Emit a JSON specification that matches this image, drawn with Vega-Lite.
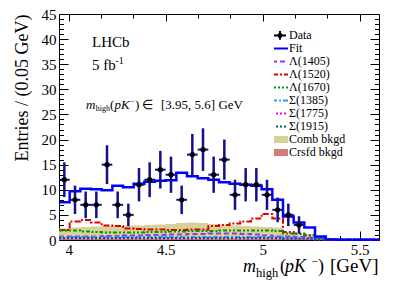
{
"$schema":"https://vega.github.io/schema/vega-lite/v6.json",
"width":320,"height":226,
"autosize":{"type":"none"},
"padding":{"left":59,"top":14,"right":20,"bottom":46},
"background":"white",
"config":{
 "view":{"stroke":"black","strokeWidth":1},
 "axis":{"grid":false,"domain":false,"labelFont":"Liberation Serif","labelFontSize":15,"labelColor":"black","titleFont":"Liberation Serif","titleFontSize":18,"titleFontWeight":"normal","titleColor":"black","tickColor":"black","tickWidth":1,"labelFlush":false,"labelOverlap":false},
 "text":{"font":"Liberation Serif","color":"black"}
},
"datasets":{"bins":[
{"lo":3.95,"hi":4.005,"c":3.9775,"n":12,"elo":8.54,"ehi":15.46,"fit":7.5,"L1405":0.7,"L1520":2.0,"L1670":1.9,"S1385":0.6,"S1775":0.25,"S1915":0.4,"comb":2.3,"crsfd":0.3},
{"lo":4.005,"hi":4.06,"c":4.0325,"n":8,"elo":5.17,"ehi":10.83,"fit":9.7,"L1405":0.7,"L1520":3.7,"L1670":1.9,"S1385":0.6,"S1775":0.25,"S1915":0.4,"comb":2.5,"crsfd":0.3},
{"lo":4.06,"hi":4.115,"c":4.0875,"n":7,"elo":4.35,"ehi":9.65,"fit":10.2,"L1405":0.7,"L1520":4.0,"L1670":1.7,"S1385":0.6,"S1775":0.25,"S1915":0.4,"comb":2.6,"crsfd":0.3},
{"lo":4.115,"hi":4.17,"c":4.1425,"n":7,"elo":4.35,"ehi":9.65,"fit":10.1,"L1405":0.7,"L1520":3.5,"L1670":1.6,"S1385":0.6,"S1775":0.25,"S1915":0.4,"comb":2.7,"crsfd":0.3},
{"lo":4.17,"hi":4.225,"c":4.1975,"n":15,"elo":11.13,"ehi":18.87,"fit":9.9,"L1405":0.8,"L1520":2.9,"L1670":1.5,"S1385":0.6,"S1775":0.25,"S1915":0.4,"comb":2.8,"crsfd":0.3},
{"lo":4.225,"hi":4.28,"c":4.2525,"n":7,"elo":4.35,"ehi":9.65,"fit":10.8,"L1405":0.8,"L1520":2.8,"L1670":1.5,"S1385":0.6,"S1775":0.25,"S1915":0.4,"comb":2.8,"crsfd":0.3},
{"lo":4.28,"hi":4.335,"c":4.3075,"n":5,"elo":2.76,"ehi":7.24,"fit":10.5,"L1405":0.9,"L1520":2.3,"L1670":1.5,"S1385":0.6,"S1775":0.25,"S1915":0.4,"comb":2.9,"crsfd":0.3},
{"lo":4.335,"hi":4.39,"c":4.3625,"n":11,"elo":7.68,"ehi":14.32,"fit":11.2,"L1405":0.9,"L1520":2.2,"L1670":1.5,"S1385":0.6,"S1775":0.25,"S1915":0.4,"comb":2.9,"crsfd":0.3},
{"lo":4.39,"hi":4.445,"c":4.4175,"n":12,"elo":8.54,"ehi":15.46,"fit":11.6,"L1405":1.0,"L1520":2.1,"L1670":1.6,"S1385":0.6,"S1775":0.25,"S1915":0.4,"comb":3.0,"crsfd":0.3},
{"lo":4.445,"hi":4.5,"c":4.4725,"n":14,"elo":10.26,"ehi":17.74,"fit":11.8,"L1405":1.0,"L1520":2.1,"L1670":1.6,"S1385":0.6,"S1775":0.25,"S1915":0.4,"comb":3.1,"crsfd":0.3},
{"lo":4.5,"hi":4.555,"c":4.5275,"n":13,"elo":9.39,"ehi":16.61,"fit":11.9,"L1405":1.1,"L1520":2.0,"L1670":1.7,"S1385":0.6,"S1775":0.25,"S1915":0.4,"comb":3.2,"crsfd":0.3},
{"lo":4.555,"hi":4.61,"c":4.5825,"n":8,"elo":5.17,"ehi":10.83,"fit":13.4,"L1405":1.1,"L1520":2.0,"L1670":1.7,"S1385":0.6,"S1775":0.25,"S1915":0.4,"comb":3.4,"crsfd":0.3},
{"lo":4.61,"hi":4.665,"c":4.6375,"n":17,"elo":12.88,"ehi":21.12,"fit":12.7,"L1405":1.2,"L1520":2.1,"L1670":1.8,"S1385":0.6,"S1775":0.25,"S1915":0.4,"comb":3.5,"crsfd":0.3},
{"lo":4.665,"hi":4.72,"c":4.6925,"n":18,"elo":13.76,"ehi":22.24,"fit":12.3,"L1405":1.2,"L1520":2.1,"L1670":1.8,"S1385":0.6,"S1775":0.25,"S1915":0.4,"comb":3.4,"crsfd":0.3},
{"lo":4.72,"hi":4.775,"c":4.7475,"n":13,"elo":9.39,"ehi":16.61,"fit":12.0,"L1405":1.3,"L1520":2.8,"L1670":1.8,"S1385":0.6,"S1775":0.25,"S1915":0.4,"comb":3.2,"crsfd":0.3},
{"lo":4.775,"hi":4.83,"c":4.8025,"n":16,"elo":12,"ehi":20,"fit":11.5,"L1405":1.3,"L1520":3.0,"L1670":1.9,"S1385":0.6,"S1775":0.25,"S1915":0.4,"comb":3.0,"crsfd":0.3},
{"lo":4.83,"hi":4.885,"c":4.8575,"n":9,"elo":6,"ehi":12,"fit":11.2,"L1405":1.3,"L1520":3.3,"L1670":1.9,"S1385":0.6,"S1775":0.25,"S1915":0.4,"comb":2.9,"crsfd":0.3},
{"lo":4.885,"hi":4.94,"c":4.9125,"n":11,"elo":7.68,"ehi":14.32,"fit":11.0,"L1405":1.2,"L1520":3.7,"L1670":1.9,"S1385":0.6,"S1775":0.25,"S1915":0.4,"comb":2.8,"crsfd":0.3},
{"lo":4.94,"hi":4.995,"c":4.9675,"n":11,"elo":7.68,"ehi":14.32,"fit":10.8,"L1405":1.1,"L1520":4.3,"L1670":1.9,"S1385":0.6,"S1775":0.25,"S1915":0.4,"comb":2.7,"crsfd":0.3},
{"lo":4.995,"hi":5.05,"c":5.0225,"n":9,"elo":6,"ehi":12,"fit":10.1,"L1405":0.9,"L1520":5.2,"L1670":1.9,"S1385":0.6,"S1775":0.25,"S1915":0.4,"comb":2.6,"crsfd":0.3},
{"lo":5.05,"hi":5.105,"c":5.0775,"n":6,"elo":3.55,"ehi":8.45,"fit":8.0,"L1405":0.7,"L1520":4.3,"L1670":1.8,"S1385":0.6,"S1775":0.25,"S1915":0.4,"comb":2.5,"crsfd":0.3},
{"lo":5.105,"hi":5.16,"c":5.1325,"n":5,"elo":2.76,"ehi":7.24,"fit":4.7,"L1405":0.7,"L1520":1.6,"L1670":1.3,"S1385":0.5,"S1775":0.2,"S1915":0.3,"comb":1.5,"crsfd":0.3},
{"lo":5.16,"hi":5.215,"c":5.1875,"n":3,"elo":1.27,"ehi":4.73,"fit":3.5,"L1405":0.6,"L1520":1.3,"L1670":1.2,"S1385":0.4,"S1775":0.2,"S1915":0.3,"comb":1.0,"crsfd":0.3},
{"lo":5.215,"hi":5.27,"c":5.2425,"fit":2.5,"L1405":0.5,"L1520":0.9,"L1670":1.0,"S1385":0.3,"S1775":0.15,"S1915":0.3,"comb":0.5,"crsfd":0.2},
{"lo":5.27,"hi":5.325,"c":5.2975,"fit":0.7,"L1405":0.3,"L1520":0.4,"L1670":0.3,"S1385":0.2,"S1775":0.1,"S1915":0.15,"comb":0.2,"crsfd":0.1},
{"lo":5.325,"hi":5.38,"c":5.3525,"fit":0.1,"L1405":0.1,"L1520":0.15,"L1670":0.1,"S1385":0.1,"S1775":0.05,"S1915":0.1,"comb":0.05,"crsfd":0},
{"lo":5.38,"hi":5.435,"c":5.4075,"fit":0.05,"L1405":0.05,"L1520":0.1,"L1670":0.05,"S1385":0.05,"S1775":0.05,"S1915":0.05,"comb":0,"crsfd":0},
{"lo":5.435,"hi":5.49,"c":5.4625,"fit":0.05,"L1405":0.05,"L1520":0.1,"L1670":0.05,"S1385":0.05,"S1775":0.05,"S1915":0.05,"comb":0,"crsfd":0},
{"lo":5.49,"hi":5.545,"c":5.5175,"fit":0.05,"L1405":0.05,"L1520":0.1,"L1670":0.05,"S1385":0.05,"S1775":0.05,"S1915":0.05,"comb":0,"crsfd":0},
{"lo":5.545,"hi":5.6,"c":5.5725,"fit":0.05,"L1405":0.05,"L1520":0.1,"L1670":0.05,"S1385":0.05,"S1775":0.05,"S1915":0.05,"comb":0,"crsfd":0},
{"lo":5.6,"fit":0.05,"L1405":0.05,"L1520":0.1,"L1670":0.05,"S1385":0.05,"S1775":0.05,"S1915":0.05,"comb":0,"crsfd":0}
]},
"data":{"name":"bins"},
"resolve":{"axis":{"x":"independent","y":"independent"}},
"layer":[
 {"mark":{"type":"area","interpolate":"step-after","opacity":1,"fill":"#d8d199"},
  "encoding":{
   "x":{"field":"lo","type":"quantitative","scale":{"domain":[3.95,5.6],"nice":false,"zero":false},
        "axis":{"orient":"bottom","values":[4,4.5,5,5.5],"format":"~g","ticks":false,"labelPadding":2,"title":null}},
   "y":{"field":"comb","type":"quantitative","scale":{"domain":[0,45],"nice":false},
        "axis":{"orient":"left","values":[0,5,10,15,20,25,30,35,40,45],"ticks":false,"labelPadding":3,"title":"Entries / (0.05 GeV)","titleAnchor":"end","titlePadding":10}}
  }},
 {"mark":{"type":"area","interpolate":"step-after","opacity":1,"fill":"#d67b7b"},
  "encoding":{
   "x":{"field":"lo","type":"quantitative","axis":{"orient":"bottom","values":[4,4.5,5,5.5],"labels":false,"tickSize":-9,"title":null}},
   "y":{"field":"crsfd","type":"quantitative","axis":{"orient":"left","values":[0,5,10,15,20,25,30,35,40,45],"labels":false,"tickSize":-9,"title":null}}
  }},
 {"transform":[{"fold":["L1405","L1520","L1670","S1385","S1775","S1915"],"as":["comp","val"]}],
  "mark":{"type":"line","interpolate":"step-after","strokeWidth":2},
  "encoding":{
   "x":{"field":"lo","type":"quantitative","axis":{"orient":"bottom","values":[4.1,4.2,4.3,4.4,4.6,4.7,4.8,4.9,5.1,5.2,5.3,5.4],"labels":false,"tickSize":-4.5,"title":null}},
   "y":{"field":"val","type":"quantitative","axis":{"orient":"left","values":[1,2,3,4,6,7,8,9,11,12,13,14,16,17,18,19,21,22,23,24,26,27,28,29,31,32,33,34,36,37,38,39,41,42,43,44],"labels":false,"tickSize":-4.5,"title":null}},
   "color":{"field":"comp","type":"nominal",
     "scale":{"domain":["data","fit","L1405","L1520","L1670","S1385","S1775","S1915","comb","crsfd"],"range":["black","#0000ff","#9933ff","#e00000","#009900","#3399ff","#ff00ff","#006666","#d8d199","#d67b7b"]},
     "legend":{"orient":"none","legendX":215,"legendY":15,"title":null,"symbolType":"stroke","symbolSize":169,"symbolStrokeWidth":2,"labelFont":"Liberation Serif","labelFontSize":12,"labelColor":"black","rowPadding":0,"clipHeight":12.8,"padding":0,"labelOffset":3,"symbolOffset":0,
       "labelExpr":"{'data':'Data','fit':'Fit','L1405':'Λ(1405)','L1520':'Λ(1520)','L1670':'Λ(1670)','S1385':'Σ(1385)','S1775':'Σ(1775)','S1915':'Σ(1915)','comb':'Comb bkgd','crsfd':'Crsfd bkgd'}[datum.label]",
       "encode":{"symbols":{"update":{
         "strokeWidth":{"signal":"datum.value==='comb'||datum.value==='crsfd' ? 7 : 2"},
         "shape":{"signal":"datum.value==='data' ? 'M-0.92,0H0.92M0,-0.68V0.68M-0.25,0A0.25,0.25 0 1,0 0.25,0A0.25,0.25 0 1,0 -0.25,0Z' : 'M-1.23,0H1.23'"},
         "fill":{"signal":"datum.value==='data' ? 'black' : 'transparent'"}}}}}},
   "strokeDash":{"field":"comp","type":"nominal",
     "scale":{"domain":["data","fit","L1405","L1520","L1670","S1385","S1775","S1915","comb","crsfd"],"range":[[1,0],[1,0],[5,3],[6,2,2,2],[4,2,2,2,2,2],[5,2,2,2],[2,2],[2,2],[1,0],[1,0]]},
     "legend":{"orient":"none","legendX":215,"legendY":15,"title":null,"symbolType":"stroke","symbolSize":169,"symbolStrokeWidth":2,"labelFont":"Liberation Serif","labelFontSize":12,"labelColor":"black","rowPadding":0,"clipHeight":12.8,"padding":0,"labelOffset":3,"symbolOffset":0,
       "labelExpr":"{'data':'Data','fit':'Fit','L1405':'Λ(1405)','L1520':'Λ(1520)','L1670':'Λ(1670)','S1385':'Σ(1385)','S1775':'Σ(1775)','S1915':'Σ(1915)','comb':'Comb bkgd','crsfd':'Crsfd bkgd'}[datum.label]",
       "encode":{"symbols":{"update":{
         "strokeWidth":{"signal":"datum.value==='comb'||datum.value==='crsfd' ? 7 : 2"},
         "shape":{"signal":"datum.value==='data' ? 'M-0.92,0H0.92M0,-0.68V0.68M-0.25,0A0.25,0.25 0 1,0 0.25,0A0.25,0.25 0 1,0 -0.25,0Z' : 'M-1.23,0H1.23'"},
         "fill":{"signal":"datum.value==='data' ? 'black' : 'transparent'"}}}}}}
  }},
 {"mark":{"type":"line","interpolate":"step-after","strokeWidth":2.5},
  "encoding":{
   "x":{"field":"lo","type":"quantitative","axis":{"orient":"top","values":[4,4.5,5,5.5],"labels":false,"tickSize":-7,"title":null}},
   "y":{"field":"fit","type":"quantitative","axis":{"orient":"right","values":[0,5,10,15,20,25,30,35,40,45],"labels":false,"tickSize":-9,"title":null}},
   "color":{"datum":"fit"},
   "strokeDash":{"datum":"fit"}
  }},
 {"transform":[{"filter":"isValid(datum.n)"}],
  "mark":{"type":"rule","color":"#10108a","strokeWidth":2.5},
  "encoding":{
   "x":{"field":"c","type":"quantitative","axis":{"orient":"top","values":[4.1667,4.3333,4.6667,4.8333,5.1667,5.3333],"labels":false,"tickSize":-4,"title":null}},
   "y":{"field":"elo","type":"quantitative","axis":{"orient":"right","values":[1,2,3,4,6,7,8,9,11,12,13,14,16,17,18,19,21,22,23,24,26,27,28,29,31,32,33,34,36,37,38,39,41,42,43,44],"labels":false,"tickSize":-4.5,"title":null}},
   "y2":{"field":"ehi"}
  }},
 {"transform":[{"filter":"isValid(datum.n)"}],
  "mark":{"type":"rule","color":"#10108a","strokeWidth":2},
  "encoding":{
   "x":{"field":"lo","type":"quantitative","axis":null},
   "x2":{"field":"hi"},
   "y":{"field":"n","type":"quantitative","axis":null}
  }},
 {"transform":[{"filter":"isValid(datum.n)"}],
  "mark":{"type":"point","filled":true,"color":"black","size":28,"opacity":1},
  "encoding":{
   "x":{"field":"c","type":"quantitative","axis":null},
   "y":{"field":"n","type":"quantitative","axis":null}
  }},
 {"data":{"values":[{}]},"mark":{"type":"text","text":"LHCb","fontSize":15,"align":"left","baseline":"alphabetic"},
  "encoding":{"x":{"datum":4.12,"type":"quantitative","axis":null},"y":{"datum":38.49,"type":"quantitative","axis":null}}},
 {"data":{"values":[{}]},"mark":{"type":"text","text":"5 fb","fontSize":15,"align":"left","baseline":"alphabetic"},
  "encoding":{"x":{"datum":4.12,"type":"quantitative","axis":null},"y":{"datum":33.85,"type":"quantitative","axis":null}}},
 {"data":{"values":[{}]},"mark":{"type":"text","text":"-1","fontSize":10,"align":"left","baseline":"alphabetic"},
  "encoding":{"x":{"datum":4.2413,"type":"quantitative","axis":null},"y":{"datum":35.05,"type":"quantitative","axis":null}}},
 {"data":{"values":[{}]},"mark":{"type":"text","text":"m","fontSize":13,"fontStyle":"italic","align":"left","baseline":"alphabetic"},
  "encoding":{"x":{"datum":4.0892,"type":"quantitative","axis":null},"y":{"datum":26.08,"type":"quantitative","axis":null}}},
 {"data":{"values":[{}]},"mark":{"type":"text","text":"high","fontSize":8,"align":"left","baseline":"alphabetic"},
  "encoding":{"x":{"datum":4.1398,"type":"quantitative","axis":null},"y":{"datum":25.59,"type":"quantitative","axis":null}}},
 {"data":{"values":[{}]},"mark":{"type":"text","text":"(","fontSize":13,"align":"left","baseline":"alphabetic"},
  "encoding":{"x":{"datum":4.213,"type":"quantitative","axis":null},"y":{"datum":26.08,"type":"quantitative","axis":null}}},
 {"data":{"values":[{}]},"mark":{"type":"text","text":"p","fontSize":13,"fontStyle":"italic","align":"left","baseline":"alphabetic"},
  "encoding":{"x":{"datum":4.2362,"type":"quantitative","axis":null},"y":{"datum":26.08,"type":"quantitative","axis":null}}},
 {"data":{"values":[{}]},"mark":{"type":"text","text":"K","fontSize":13,"fontStyle":"italic","align":"left","baseline":"alphabetic"},
  "encoding":{"x":{"datum":4.2697,"type":"quantitative","axis":null},"y":{"datum":26.08,"type":"quantitative","axis":null}}},
 {"data":{"values":[{}]},"mark":{"type":"text","text":"−","fontSize":8,"align":"left","baseline":"alphabetic"},
  "encoding":{"x":{"datum":4.3161,"type":"quantitative","axis":null},"y":{"datum":27.08,"type":"quantitative","axis":null}}},
 {"data":{"values":[{}]},"mark":{"type":"text","text":")","fontSize":13,"align":"left","baseline":"alphabetic"},
  "encoding":{"x":{"datum":4.3419,"type":"quantitative","axis":null},"y":{"datum":26.08,"type":"quantitative","axis":null}}},
 {"data":{"values":[{}]},"mark":{"type":"text","text":"∈","fontSize":13,"align":"left","baseline":"alphabetic"},
  "encoding":{"x":{"datum":4.3805,"type":"quantitative","axis":null},"y":{"datum":26.08,"type":"quantitative","axis":null}}},
 {"data":{"values":[{}]},"mark":{"type":"text","text":"[3.95, 5.6] GeV","fontSize":13,"align":"right","baseline":"alphabetic"},
  "encoding":{"x":{"datum":4.8988,"type":"quantitative","axis":null},"y":{"datum":26.08,"type":"quantitative","axis":null}}},
 {"data":{"values":[{}]},"mark":{"type":"text","text":"m","fontSize":18,"fontStyle":"italic","align":"left","baseline":"alphabetic"},
  "encoding":{"x":{"datum":4.8993,"type":"quantitative","axis":null},"y":{"datum":-6.43,"type":"quantitative","axis":null}}},
 {"data":{"values":[{}]},"mark":{"type":"text","text":"high","fontSize":12.5,"align":"left","baseline":"alphabetic"},
  "encoding":{"x":{"datum":4.9658,"type":"quantitative","axis":null},"y":{"datum":-7.27,"type":"quantitative","axis":null}}},
 {"data":{"values":[{}]},"mark":{"type":"text","text":"(","fontSize":18,"align":"left","baseline":"alphabetic"},
  "encoding":{"x":{"datum":5.0896,"type":"quantitative","axis":null},"y":{"datum":-6.43,"type":"quantitative","axis":null}}},
 {"data":{"values":[{}]},"mark":{"type":"text","text":"p","fontSize":18,"fontStyle":"italic","align":"left","baseline":"alphabetic"},
  "encoding":{"x":{"datum":5.1153,"type":"quantitative","axis":null},"y":{"datum":-6.43,"type":"quantitative","axis":null}}},
 {"data":{"values":[{}]},"mark":{"type":"text","text":"K","fontSize":18,"fontStyle":"italic","align":"left","baseline":"alphabetic"},
  "encoding":{"x":{"datum":5.1617,"type":"quantitative","axis":null},"y":{"datum":-6.43,"type":"quantitative","axis":null}}},
 {"data":{"values":[{}]},"mark":{"type":"text","text":"−","fontSize":12,"align":"left","baseline":"alphabetic"},
  "encoding":{"x":{"datum":5.2519,"type":"quantitative","axis":null},"y":{"datum":-4.98,"type":"quantitative","axis":null}}},
 {"data":{"values":[{}]},"mark":{"type":"text","text":")","fontSize":18,"align":"left","baseline":"alphabetic"},
  "encoding":{"x":{"datum":5.2854,"type":"quantitative","axis":null},"y":{"datum":-6.43,"type":"quantitative","axis":null}}},
 {"data":{"values":[{}]},"mark":{"type":"text","text":"[GeV]","fontSize":19,"align":"right","baseline":"alphabetic"},
  "encoding":{"x":{"datum":5.5974,"type":"quantitative","axis":null},"y":{"datum":-6.43,"type":"quantitative","axis":null}}}
]
}
